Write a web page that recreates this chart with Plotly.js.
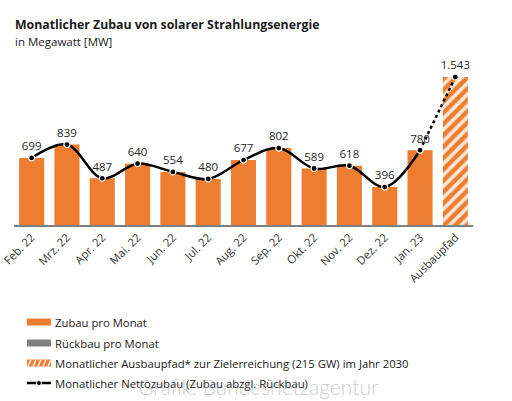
<!DOCTYPE html>
<html><head><meta charset="utf-8">
<script src="https://cdn.plot.ly/plotly-3.0.1.min.js"></script>
<style>html,body{margin:0;padding:0;background:#fff}#c{width:512px;height:401px}</style>
</head><body><div id="c"></div>
<script>
const categories = ["Feb. 22","Mrz. 22","Apr. 22","Mai. 22","Jun. 22","Jul. 22","Aug. 22","Sep. 22","Okt. 22","Nov. 22","Dez. 22","Jan. 23","Ausbaupfad"];
const months = categories.slice(0, 12);
const zubau = [699, 839, 487, 640, 554, 480, 677, 802, 589, 618, 396, 780];
const rueckbau = [0, 0, 0, 0, 0, 0, 0, 0, 0, 0, 0, 0];
const ausbaupfadLabel = ["Ausbaupfad"];
const ausbaupfad = [1543];
const netto = [699, 839, 487, 640, 554, 480, 677, 802, 589, 618, 396, 780];
const legendLabels = ["Zubau pro Monat","Rückbau pro Monat","Monatlicher Ausbaupfad* zur Zielerreichung (215 GW) im Jahr 2030","Monatlicher Nettozubau (Zubau abzgl. Rückbau)"];

const orange = "#ed7d31";
const font = "Open Sans, Noto Sans, sans-serif";

const traces = [
  {type:"bar", x:months, y:zubau, marker:{color:orange}, hoverinfo:"skip"},
  {type:"bar", x:months, y:rueckbau, marker:{color:"#7f7f7f"}, hoverinfo:"skip"},
  {type:"bar", x:ausbaupfadLabel, y:ausbaupfad,
   marker:{color:orange, pattern:{shape:"/", fgcolor:"#fce6d4", bgcolor:orange, size:8, solidity:0.45}}, hoverinfo:"skip"},
  {type:"scatter", mode:"lines", x:[months[11], ausbaupfadLabel[0]], y:[netto[11], ausbaupfad[0]],
   line:{color:"#000", width:2.5, dash:"dot"}, hoverinfo:"skip"},
  {type:"scatter", mode:"lines+markers+text", x:months, y:netto,
   line:{color:"#000", width:2.5, shape:"spline", smoothing:1},
   marker:{color:"#000", size:6, line:{color:"#fff", width:1.2}},
   texttemplate:"%{y:,.0f}", textposition:"top center", textfont:{family:font, size:11.5, color:"#262626"}, hoverinfo:"skip"},
  {type:"scatter", mode:"markers+text", x:ausbaupfadLabel, y:ausbaupfad,
   marker:{color:"#000", size:6, line:{color:"#fff", width:1.2}},
   texttemplate:"%{y:,.0f}", textposition:"top center", textfont:{family:font, size:11.5, color:"#262626"}, hoverinfo:"skip"}
];

const legY = [322, 343, 363, 383];
const H = 401, W = 512;
function px(x){ return (x - 14) / (473.5 - 14); }
function py(y){ return (225 - y) / (225 - 50); }
const legShapes = [
  {type:"rect", xref:"paper", yref:"paper", x0:px(27), x1:px(51), y0:py(legY[0]+3.5), y1:py(legY[0]-3.5), fillcolor:orange, line:{width:0}},
  {type:"rect", xref:"paper", yref:"paper", x0:px(27), x1:px(51), y0:py(legY[1]+3.5), y1:py(legY[1]-3.5), fillcolor:"#7f7f7f", line:{width:0}},
  {type:"rect", xref:"paper", yref:"paper", x0:px(27), x1:px(51), y0:py(legY[2]+3.5), y1:py(legY[2]-3.5), fillcolor:orange, line:{width:0}},
  {type:"line", xref:"paper", yref:"paper", x0:px(27), x1:px(51), y0:py(legY[3]), y1:py(legY[3]), line:{color:"#000", width:2.5}},
  {type:"circle", xref:"paper", yref:"paper", x0:px(36.5), x1:px(41.5), y0:py(legY[3]+2.5), y1:py(legY[3]-2.5), fillcolor:"#000", line:{color:"#fff", width:1}}
];
for (let i = 0; i < 5; i++) {
  const x0 = 27 + i*5;
  legShapes.push({type:"line", xref:"paper", yref:"paper", x0:px(x0+1), x1:px(x0+4), y0:py(legY[2]+3.5), y1:py(legY[2]-3.5), line:{color:"#fff", width:1.3}});
}

const annotations = [
  {text:"<b>Monatlicher Zubau von solarer Strahlungsenergie</b>", xref:"paper", yref:"paper", x:px(13), y:py(24), xanchor:"left", yanchor:"middle", showarrow:false, font:{family:font, size:12.3, color:"#1a1a1a"}},
  {text:"in Megawatt [MW]", xref:"paper", yref:"paper", x:px(13), y:py(42), xanchor:"left", yanchor:"middle", showarrow:false, font:{family:font, size:11.5, color:"#1a1a1a"}}
];
legendLabels.forEach((t, i) => {
  annotations.push({text:t, xref:"paper", yref:"paper", x:px(53), y:py(legY[i]), xanchor:"left", yanchor:"middle", showarrow:false, font:{family:font, size:11.3, color:"#1a1a1a"}});
});
annotations.push({text:"Grafik: Bundesnetzagentur", xref:"paper", yref:"paper", x:px(259), y:py(386), xanchor:"center", yanchor:"middle", showarrow:false, font:{family:"Lato, sans-serif", size:21, color:"rgba(150,150,150,0.5)", weight:300}});

const layout = {
  width:W, height:H,
  margin:{l:14, r:38.5, t:50, b:176, pad:0},
  paper_bgcolor:"#fff", plot_bgcolor:"#fff",
  showlegend:false, barmode:"overlay", bargap:0.29,
  separators:",.",
  xaxis:{type:"category", categoryorder:"array", categoryarray:categories, range:[-0.5, 12.5],
    showline:true, linecolor:"#808080", linewidth:1.5, ticks:"", tickangle:-45,
    tickfont:{family:font, size:11.3, color:"#333"}, showgrid:false, zeroline:false, fixedrange:true},
  yaxis:{range:[0, 1825], visible:false, showgrid:false, zeroline:false, fixedrange:true},
  shapes:legShapes, annotations:annotations
};
Plotly.newPlot("c", traces, layout, {staticPlot:true, displayModeBar:false});
</script></body></html>
